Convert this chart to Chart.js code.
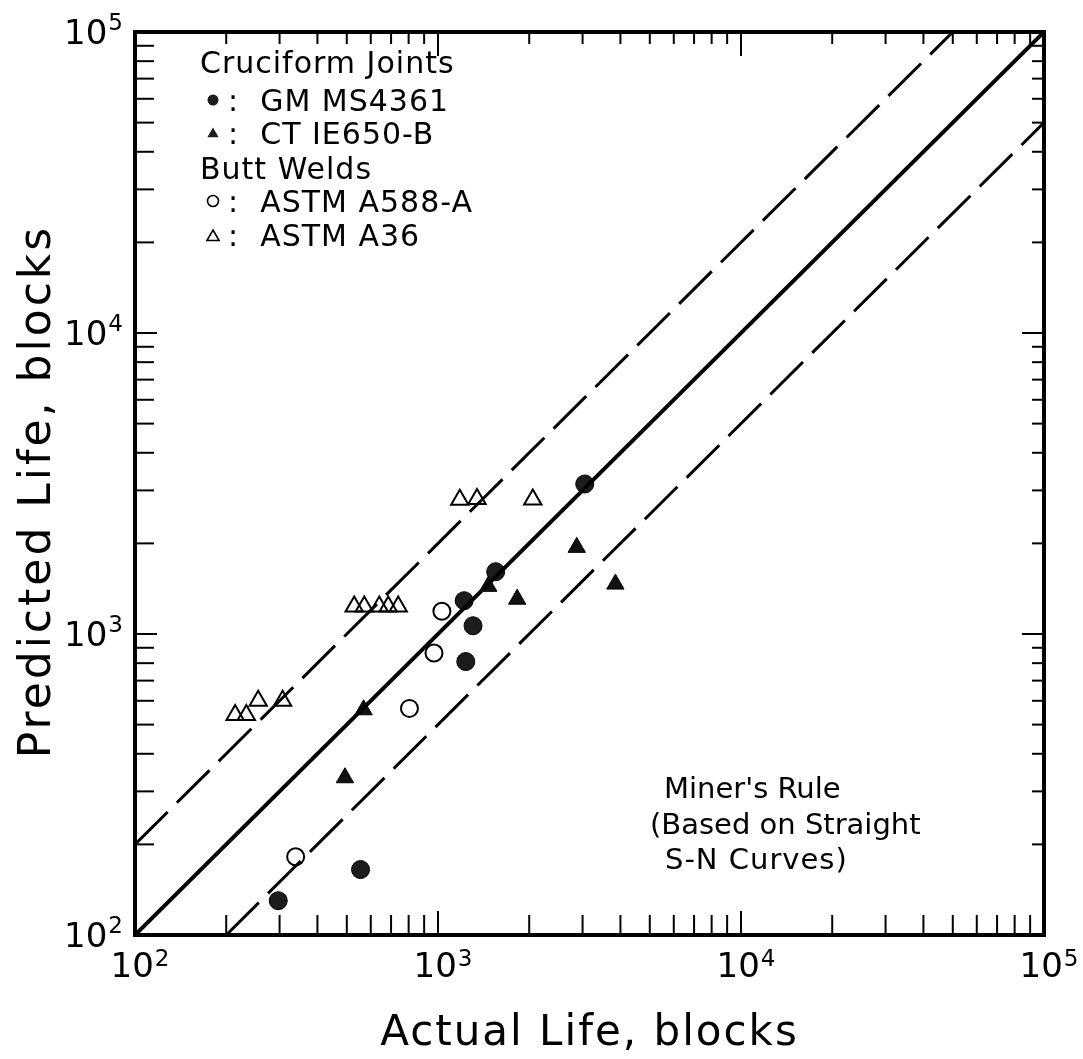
<!DOCTYPE html>
<html>
<head>
<meta charset="utf-8">
<script src="https://cdn.jsdelivr.net/npm/chart.js@4.4.0/dist/chart.umd.min.js"></script>
<style>
  html, body { margin: 0; padding: 0; background: #fff; }
</style>
</head>
<body>
<canvas id="lifeChart" width="1083" height="1059"></canvas>
<script>
// Cruciform joints, GM MS4361 (filled circles)
const gmX = [3050, 1550, 1220, 1305, 1235, 555, 297];
const gmY = [3150, 1610, 1290, 1065, 810, 165, 130];
// Cruciform joints, CT IE650-B (filled triangles)
const ctX = [2870, 3850, 1825, 1465, 568, 493];
const ctY = [1940, 1465, 1305, 1440, 560, 333];
// Butt welds, ASTM A588-A (open circles)
const a588X = [1030, 970, 805, 339];
const a588Y = [1190, 865, 566, 182];
// Butt welds, ASTM A36 (open triangles)
const a36X = [1180, 1345, 2055, 529, 571, 640, 685, 739, 214, 233, 255, 307];
const a36Y = [2790, 2810, 2800, 1235, 1235, 1235, 1235, 1235, 538, 538, 600, 600];

// predicted = actual, and factor-of-two scatter band
const ruleX = [100, 100000];
const ruleY = [100, 100000];
const upperX = [100, 50000];
const upperY = [200, 100000];
const lowerX = [200, 100000];
const lowerY = [100, 50000];

const decades = [100, 1000, 10000, 100000];
const decadeExp = ['2', '3', '4', '5'];

const FONT = '"DejaVu Sans", sans-serif';

function pts(xs, ys) {
  return xs.map((x, i) => ({ x: x, y: ys[i] }));
}

function powLabel(ctx, exp, x, y, align, rise) {
  ctx.font = '34px ' + FONT;
  const wb = ctx.measureText('10').width;
  ctx.font = '23px ' + FONT;
  const we = ctx.measureText(exp).width;
  const w = wb + 1 + we;
  const left = align === 'right' ? x - w : x - w / 2;
  ctx.textAlign = 'left';
  ctx.textBaseline = 'alphabetic';
  ctx.font = '34px ' + FONT;
  ctx.fillText('10', left, y);
  ctx.font = '23px ' + FONT;
  ctx.fillText(exp, left + wb + 1, y - rise);
}

function seg(ctx, x1, y1, x2, y2) {
  ctx.beginPath();
  ctx.moveTo(x1, y1);
  ctx.lineTo(x2, y2);
  ctx.stroke();
}

function tri(ctx, x, y, r, filled) {
  ctx.beginPath();
  for (let k = 0; k < 3; k++) {
    const ang = k * 2 * Math.PI / 3;
    const px = x + Math.sin(ang) * r, py = y - Math.cos(ang) * r;
    if (k === 0) ctx.moveTo(px, py); else ctx.lineTo(px, py);
  }
  ctx.closePath();
  if (filled) ctx.fill(); else ctx.stroke();
}

const axisDecor = {
  id: 'axisDecor',
  afterDraw(chart) {
    const ctx = chart.ctx;
    const a = chart.chartArea;
    const xs = chart.scales.x, ys = chart.scales.y;
    ctx.save();
    ctx.strokeStyle = '#000';
    ctx.fillStyle = '#000';

    // inward ticks on all four sides
    ctx.lineWidth = 2;
    decades.forEach((d) => {
      for (let m = 1; m <= 9; m++) {
        const v = d * m;
        if (v >= 100000) break;
        const major = m === 1;
        const px = xs.getPixelForValue(v);
        const py = ys.getPixelForValue(v);
        seg(ctx, px, a.bottom, px, a.bottom - (major ? 24 : 20));
        seg(ctx, px, a.top, px, a.top + (major ? 24 : 12));
        seg(ctx, a.left, py, a.left + (major ? 22 : 19), py);
        seg(ctx, a.right, py, a.right - (major ? 22 : 12), py);
      }
    });

    // frame
    ctx.lineWidth = 4;
    ctx.strokeRect(a.left, a.top, a.right - a.left, a.bottom - a.top);

    // tick labels
    decades.forEach((d, i) => {
      powLabel(ctx, decadeExp[i], xs.getPixelForValue(d) + 5, a.bottom + 42, 'center', 11);
      powLabel(ctx, decadeExp[i], a.left - 12, ys.getPixelForValue(d) + 12, 'right', 14);
    });

    // axis titles
    ctx.textAlign = 'center';
    ctx.textBaseline = 'alphabetic';
    ctx.font = '42px ' + FONT;
    ctx.letterSpacing = '2px';
    ctx.fillText('Actual Life, blocks', (a.left + a.right) / 2, 1045);
    ctx.save();
    ctx.translate(50, (a.top + a.bottom) / 2 + 8);
    ctx.rotate(-Math.PI / 2);
    ctx.font = '44px ' + FONT;
    ctx.letterSpacing = '3px';
    ctx.fillText('Predicted Life, blocks', 0, 0);
    ctx.restore();

    // key
    ctx.font = '30px ' + FONT;
    ctx.letterSpacing = '1px';
    ctx.textAlign = 'left';
    ctx.fillText('Cruciform Joints', 200, 73);
    ctx.fillText(':  GM MS4361', 228, 111);
    ctx.fillText(':  CT IE650-B', 228, 144);
    ctx.fillText('Butt Welds', 200, 179);
    ctx.fillText(':  ASTM A588-A', 228, 212);
    ctx.fillText(':  ASTM A36', 228, 246);
    ctx.fillStyle = '#1c1c1c';
    ctx.beginPath();
    ctx.arc(213, 100, 5.5, 0, 2 * Math.PI);
    ctx.fill();
    tri(ctx, 213, 134, 6.5, true);
    ctx.lineWidth = 1.6;
    ctx.beginPath();
    ctx.arc(213, 201, 5.5, 0, 2 * Math.PI);
    ctx.stroke();
    tri(ctx, 213, 237, 7, false);

    // note
    ctx.fillStyle = '#000';
    ctx.font = '29px ' + FONT;
    ctx.letterSpacing = '0px';
    ctx.fillText("Miner's Rule", 664, 798);
    ctx.fillText('(Based on Straight', 650, 834);
    ctx.letterSpacing = '1px';
    ctx.fillText('S-N Curves)', 665, 869);
    ctx.restore();
  }
};

new Chart(document.getElementById('lifeChart'), {
  type: 'scatter',
  data: {
    datasets: [
      { label: 'Predicted = Actual', data: pts(ruleX, ruleY), showLine: true,
        borderColor: '#000', borderWidth: 4, pointRadius: 0 },
      { label: 'Factor 2 (upper)', data: pts(upperX, upperY), showLine: true,
        borderColor: '#000', borderWidth: 3, borderDash: [46, 13], pointRadius: 0 },
      { label: 'Factor 2 (lower)', data: pts(lowerX, lowerY), showLine: true,
        borderColor: '#000', borderWidth: 3, borderDash: [46, 13], pointRadius: 0 },
      { label: 'GM MS4361', data: pts(gmX, gmY), pointStyle: 'circle', pointRadius: 9,
        backgroundColor: '#1c1c1c', borderColor: '#000', borderWidth: 1 },
      { label: 'CT IE650-B', data: pts(ctX, ctY), pointStyle: 'triangle', pointRadius: 10,
        backgroundColor: '#111', borderColor: '#000', borderWidth: 1 },
      { label: 'ASTM A588-A', data: pts(a588X, a588Y), pointStyle: 'circle', pointRadius: 8.5,
        backgroundColor: 'rgba(0,0,0,0)', borderColor: '#000', borderWidth: 2 },
      { label: 'ASTM A36', data: pts(a36X, a36Y), pointStyle: 'triangle', pointRadius: 10,
        backgroundColor: 'rgba(0,0,0,0)', borderColor: '#000', borderWidth: 2 }
    ]
  },
  options: {
    responsive: false,
    animation: false,
    devicePixelRatio: 1,
    events: [],
    layout: { padding: { left: 135, top: 32, right: 39, bottom: 124 } },
    plugins: { legend: { display: false }, tooltip: { enabled: false } },
    scales: {
      x: { type: 'logarithmic', min: 100, max: 100000, display: false },
      y: { type: 'logarithmic', min: 100, max: 100000, display: false }
    }
  },
  plugins: [axisDecor]
});
</script>
</body>
</html>
